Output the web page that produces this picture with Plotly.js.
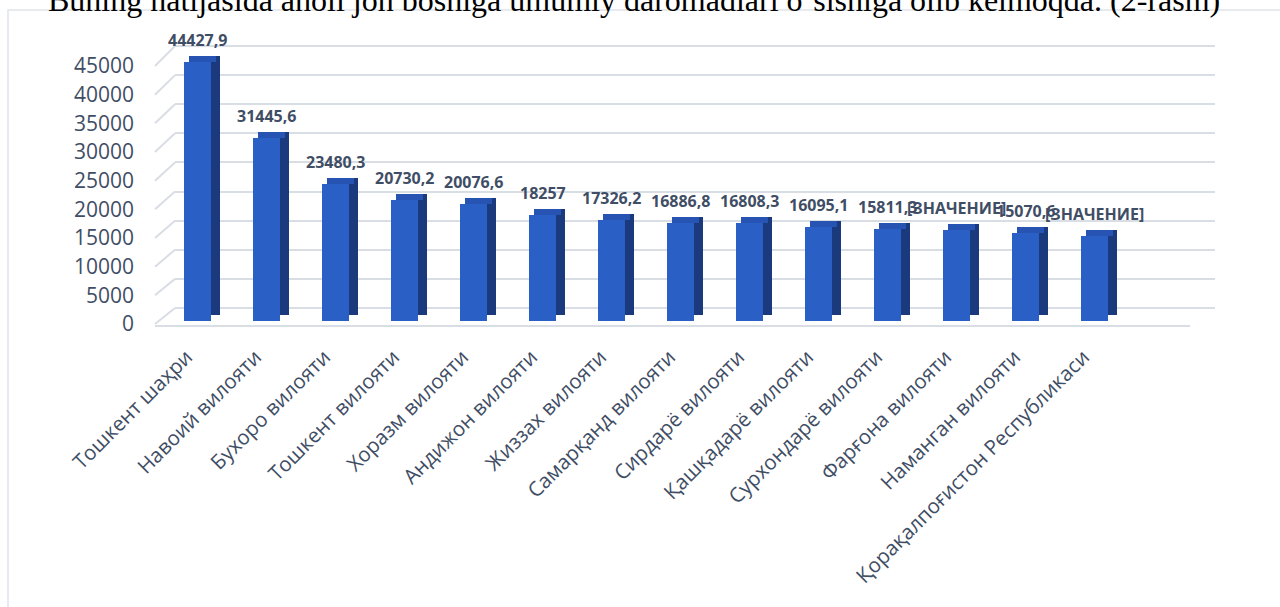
<!DOCTYPE html>
<html>
<head>
<meta charset="utf-8">
<script src="https://cdn.plot.ly/plotly-3.0.1.min.js"></script>
<style>html,body{margin:0;padding:0;background:#fff;}#chart{width:1280px;height:607px;}</style>
</head>
<body>
<div id="chart"></div>
<script>
// ---- data ----
const categories = [
  "Тошкент шаҳри", "Навоий вилояти", "Бухоро вилояти", "Тошкент вилояти",
  "Хоразм вилояти", "Андижон вилояти", "Жиззах вилояти", "Самарқанд вилояти",
  "Сирдарё вилояти", "Қашқадарё вилояти", "Сурхондарё вилояти", "Фарғона вилояти",
  "Наманган вилояти", "Қорақалпоғистон Республикаси"
];
const values = [44427.9, 31445.6, 23480.3, 20730.2, 20076.6, 18257, 17326.2, 16886.8,
  16808.3, 16095.1, 15811.3, 15650, 15070.6, 14650];
const valueLabels = ["44427,9", "31445,6", "23480,3", "20730,2", "20076,6", "18257", "17326,2",
  "16886,8", "16808,3", "16095,1", "15811,3", "[ЗНАЧЕНИЕ]", "15070,6", "[ЗНАЧЕНИЕ]"];
const yTicks = [0, 5000, 10000, 15000, 20000, 25000, 30000, 35000, 40000, 45000];
const titleText = "Buning natijasida aholi jon boshiga umumiy daromadlari o‘sishiga olib kelmoqda. (2-rasm)";

// ---- geometry (page pixels) ----
const W = 1280, H = 607;
const plotTop = 40, plotBot = 330, plotLeft = 175, plotRight = 1215;
const slot = 69, firstCenter = 197.5;
const sBar = 262 / 45000, barZero = 321;     // bar (mid-depth) scale
const sGrid = 262 / 45000, gridZero = 308;   // back wall scale
const sLab = 258 / 45000, labZero = 324;     // front (label) scale
const rangeFor = (zero, s) => [-(plotBot - zero) / s, (zero - plotTop) / s];
const depthPx = 6, sidePx = 9, faceW = 27;
const depthVal = depthPx / sBar;
const fw = faceW / slot;

const txtColor = "#3f4e65";
const font = "'Open Sans', 'Noto Sans', sans-serif";

const side = {
  type: "bar", x: categories, y: values, base: depthVal, width: fw, offset: -fw / 2 + sidePx / slot,
  marker: { color: "#1b3a7e" }, hoverinfo: "skip", showlegend: false
};
const topCap = {
  type: "bar", x: categories, y: values.map(() => depthVal), base: values, width: fw,
  offset: -fw / 2 + sidePx / 2 / slot,
  marker: { color: "#2754b2" }, hoverinfo: "skip", showlegend: false
};
const front = {
  type: "bar", x: categories, y: values, width: fw, offset: -fw / 2,
  marker: { color: "#2a5fc6", line: { width: 0 } }, showlegend: false
};
const dummyGrid = { type: "scatter", x: [categories[0]], y: [0], yaxis: "y2", mode: "markers",
  marker: { opacity: 0 }, hoverinfo: "skip", showlegend: false };
const dummyLab = { type: "scatter", x: [categories[0]], y: [0], yaxis: "y3", mode: "markers",
  marker: { opacity: 0 }, hoverinfo: "skip", showlegend: false };

const py = p => 1 - p / H;
const shapes = [];
// chart frame
shapes.push({ type: "rect", xref: "paper", yref: "paper", x0: 8 / W, x1: 1.05, y0: -0.05, y1: py(10),
  line: { color: "#dfe3ea", width: 1.5 }, fillcolor: "rgba(0,0,0,0)", layer: "below" });
// side-wall diagonals
yTicks.forEach(t => {
  shapes.push({ type: "line", xref: "paper", yref: "paper",
    x0: 155 / W, y0: py(labZero - t * sLab), x1: plotLeft / W, y1: py(gridZero - t * sGrid),
    line: { color: "#d9dde4", width: 2 }, layer: "below" });
});
// floor front edge
shapes.push({ type: "line", xref: "paper", yref: "paper", x0: 155 / W, x1: 1190 / W,
  y0: py(labZero + 2), y1: py(labZero + 2), line: { color: "#d9dde4", width: 2 }, layer: "below" });

const annotations = [{
  xref: "paper", yref: "paper", x: 46 / W, y: py(20), xanchor: "left", yanchor: "bottom",
  text: titleText, showarrow: false,
  font: { family: "'Liberation Serif', 'Times New Roman', serif", size: 32, color: "#000" }
}];
categories.forEach((c, i) => {
  annotations.push({
    xref: "x", yref: "y", x: c, y: values[i], yshift: 22, yanchor: "middle", xanchor: "center",
    text: valueLabels[i], showarrow: false,
    font: { family: font, size: 16, color: txtColor, weight: 700 }
  });
});

const layout = {
  width: W, height: H,
  margin: { l: 0, r: 0, t: 0, b: 0 },
  paper_bgcolor: "#ffffff", plot_bgcolor: "rgba(0,0,0,0)",
  barmode: "overlay", bargap: 0,
  showlegend: false,
  xaxis: {
    domain: [plotLeft / W, plotRight / W], type: "category",
    range: [-(firstCenter - plotLeft) / slot, -(firstCenter - plotLeft) / slot + (plotRight - plotLeft) / slot],
    tickangle: -45, tickfont: { family: font, size: 20.5, color: txtColor },
    ticklabelshift: -11, ticklabelstandoff: 10,
    showgrid: false, zeroline: false, showline: false, ticks: "", anchor: "y", automargin: false
  },
  yaxis: {
    domain: [py(plotBot), py(plotTop)], range: rangeFor(barZero, sBar),
    showticklabels: false, showgrid: false, zeroline: false, showline: false, ticks: ""
  },
  yaxis2: {
    overlaying: "y", anchor: "x", range: rangeFor(gridZero, sGrid), tick0: 0, dtick: 5000,
    showgrid: true, gridcolor: "#d9dde4", gridwidth: 2, showticklabels: false, zeroline: false,
    showline: false, ticks: ""
  },
  yaxis3: {
    overlaying: "y", anchor: "free", position: 134 / W, range: rangeFor(labZero, sLab),
    tick0: 0, dtick: 5000, showgrid: false, zeroline: false, showline: false, ticks: "",
    exponentformat: "none", separatethousands: false, tickformat: "d",
    tickfont: { family: font, size: 21, color: txtColor }, automargin: false
  },
  shapes: shapes,
  annotations: annotations
};

Plotly.newPlot("chart", [dummyGrid, dummyLab, side, topCap, front], layout,
  { displayModeBar: false, staticPlot: true });
</script>
</body>
</html>
